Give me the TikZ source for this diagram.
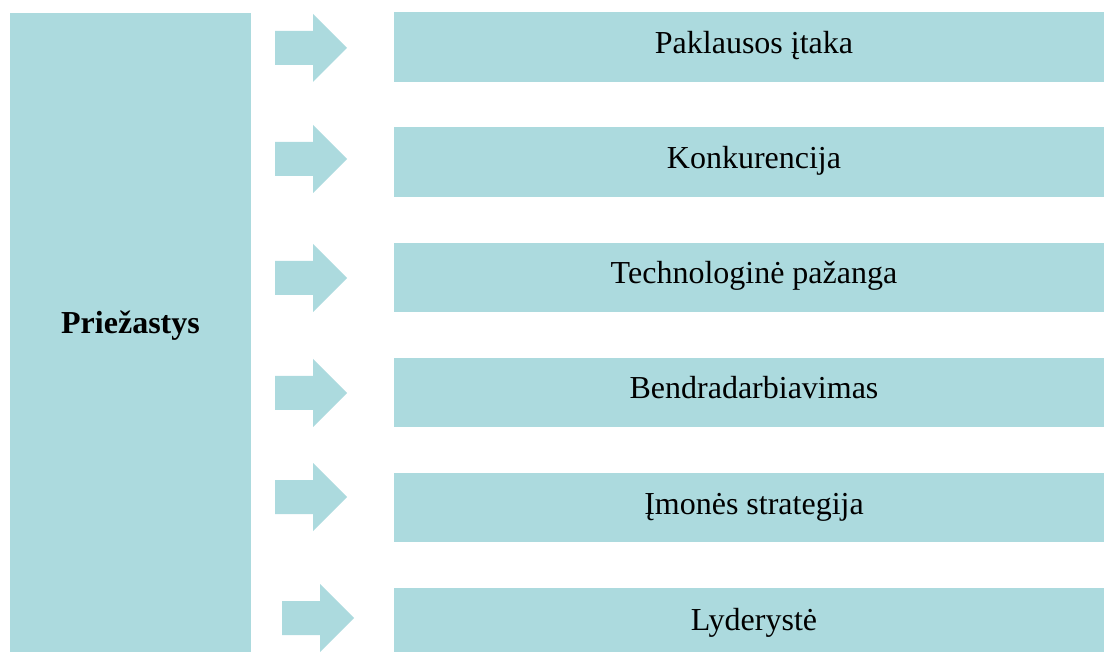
\documentclass[tikz,border=0pt]{standalone}
\usepackage{fontspec}
\setmainfont{Liberation Serif}
\definecolor{boxblue}{RGB}{172,218,222}
\tikzset{
  boxfill/.style={fill=boxblue, draw=none, inner sep=0pt, outer sep=0pt},
  lbl/.style={anchor=base, inner sep=0pt, font=\fontsize{32}{38}\selectfont},
  blockarrow/.style={fill=boxblue, draw=none}
}
\newcommand{\blockarr}[2]{% #1 = tip x, #2 = tip y
  \fill[blockarrow] (#1-72,#2-17) -- (#1-34,#2-17) -- (#1-34,#2-34) -- (#1,#2) -- (#1-34,#2+34) -- (#1-34,#2+17) -- (#1-72,#2+17) -- cycle;}
\begin{document}
\begin{tikzpicture}[x=1pt,y=-1pt]
\useasboundingbox (0,0) rectangle (1104,652);
\clip (0,0) rectangle (1104,652);
% left box
\node[boxfill, minimum width=241pt, minimum height=652pt] (left) at (130.5,339) {};
\node[lbl, font=\fontsize{32}{38}\selectfont\bfseries] (leftlbl) at (130.5,334) {Priežastys};
% right boxes
\node[boxfill, minimum width=720pt, minimum height=70pt] (b1) at (754,47) {};
\node[boxfill, minimum width=720pt, minimum height=70pt] (b2) at (754,162) {};
\node[boxfill, minimum width=720pt, minimum height=69pt] (b3) at (754,277.5) {};
\node[boxfill, minimum width=720pt, minimum height=69pt] (b4) at (754,392.5) {};
\node[boxfill, minimum width=720pt, minimum height=69pt] (b5) at (754,507.5) {};
\node[boxfill, minimum width=720pt, minimum height=72pt] (b6) at (754,624) {};
\node[lbl] (t1) at (754,54) {Paklausos įtaka};
\node[lbl] (t2) at (754,169) {Konkurencija};
\node[lbl] (t3) at (754,284) {Technologinė pažanga};
\node[lbl] (t4) at (754,399) {Bendradarbiavimas};
\node[lbl] (t5) at (754,514) {Įmonės strategija};
\node[lbl] (t6) at (754,630) {Lyderystė};
% arrows
\blockarr{347}{48}
\blockarr{347}{159}
\blockarr{347}{278}
\blockarr{347}{393}
\blockarr{347}{497}
\blockarr{354}{618}
\end{tikzpicture}
\end{document}
